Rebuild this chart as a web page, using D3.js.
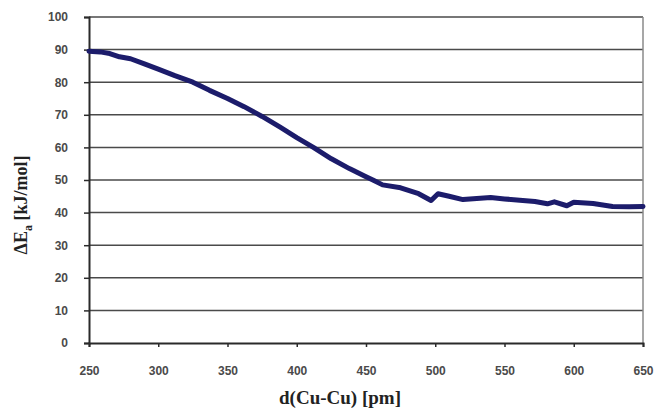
<!DOCTYPE html>
<html>
<head>
<meta charset="utf-8">
<script src="https://cdn.jsdelivr.net/npm/d3@7"></script>
<style>
  body { margin: 0; background: #fff; }
  svg { display: block; }
</style>
</head>
<body>
<svg id="plot"></svg>
<script>
// distance (pm) and activation energy (kJ/mol)
const dist = [250, 258, 265, 272, 280, 290, 300, 312, 325, 337, 350, 362, 375, 388, 400, 412, 425, 438, 450, 455, 462, 475, 488, 497, 502, 510, 520, 530, 540, 550, 561, 572, 581, 586, 595, 600, 614, 628, 640, 650];
const energy = [89.5, 89.3, 88.8, 87.8, 87.2, 85.6, 84, 82, 80, 77.5, 75, 72.5, 69.5, 66.2, 63, 60, 56.5, 53.5, 51, 50, 48.5, 47.6, 45.8, 43.7, 45.8, 45, 44, 44.3, 44.6, 44.2, 43.8, 43.4, 42.7, 43.3, 42.1, 43.2, 42.8, 41.9, 41.8, 41.9];
const xTicks = [250, 300, 350, 400, 450, 500, 550, 600, 650];
const yTicks = [0, 10, 20, 30, 40, 50, 60, 70, 80, 90, 100];

let width = 554;
let height = 326;
let margin = { top: 17, bottom: 66, left: 89, right: 11 };

let svg = d3.select('#plot')
    .attr('width', width + margin.left + margin.right)
    .attr('height', height + margin.top + margin.bottom)
    .append('g')
    .attr('transform', `translate(${margin.left}, ${margin.top})`);

let data = dist.map((d, i) => ({ x: d, y: energy[i] }));

let xScale = d3.scaleLinear().domain([250, 650]).range([0, width]);
let yScale = d3.scaleLinear().domain([0, 100]).range([height, 0]);

// horizontal gridlines
svg.selectAll('.grid')
    .data(yTicks.slice(1))
    .enter()
    .append('line')
    .attr('x1', 0)
    .attr('x2', width)
    .attr('y1', d => yScale(d))
    .attr('y2', d => yScale(d))
    .attr('stroke', '#4a4a4a')
    .attr('stroke-width', 1.5);

// right border of the plot area
svg.append('line')
    .attr('x1', width).attr('x2', width)
    .attr('y1', 0).attr('y2', height)
    .attr('stroke', '#8a8a8a')
    .attr('stroke-width', 1.5);

// x axis
let xAxis = svg.append('g')
    .attr('transform', `translate(0, ${height})`)
    .call(d3.axisBottom(xScale).tickValues(xTicks).tickSize(4).tickPadding(19));

// y axis
let yAxis = svg.append('g')
    .call(d3.axisLeft(yScale).tickValues(yTicks).tickSize(5).tickPadding(16));

[xAxis, yAxis].forEach(function(ax) {
    ax.select('.domain').attr('stroke', '#2a2a2a').attr('stroke-width', 2);
    ax.selectAll('.tick line').attr('stroke', '#2a2a2a').attr('stroke-width', 1.5);
    ax.selectAll('text')
        .attr('fill', '#4a4a4a')
        .style('font-family', 'Liberation Sans, Arial, sans-serif')
        .style('font-size', '12px')
        .style('font-weight', 'bold');
});

// curve
svg.append('path')
    .datum(data)
    .attr('fill', 'none')
    .attr('stroke', '#1c1c6b')
    .attr('stroke-width', 5)
    .attr('stroke-linejoin', 'round')
    .attr('stroke-linecap', 'round')
    .attr('d', d3.line().x(d => xScale(d.x)).y(d => yScale(d.y)));

// axis titles
svg.append('text')
    .attr('x', 340 - margin.left)
    .attr('y', height + 61)
    .attr('text-anchor', 'middle')
    .style('font-family', 'Liberation Serif, Times New Roman, serif')
    .style('font-size', '19px')
    .style('font-weight', 'bold')
    .attr('fill', '#222')
    .text('d(Cu-Cu) [pm]');

let yTitle = svg.append('text')
    .attr('transform', 'rotate(-90)')
    .attr('x', -(205 - margin.top))
    .attr('y', -margin.left + 27)
    .attr('text-anchor', 'middle')
    .style('font-family', 'Liberation Serif, Times New Roman, serif')
    .style('font-size', '18px')
    .style('font-weight', 'bold')
    .attr('fill', '#222');
yTitle.append('tspan').text('ΔE');
yTitle.append('tspan').attr('dy', 5).style('font-size', '12px').text('a');
yTitle.append('tspan').attr('dy', -5).text(' [kJ/mol]');
</script>
</body>
</html>
